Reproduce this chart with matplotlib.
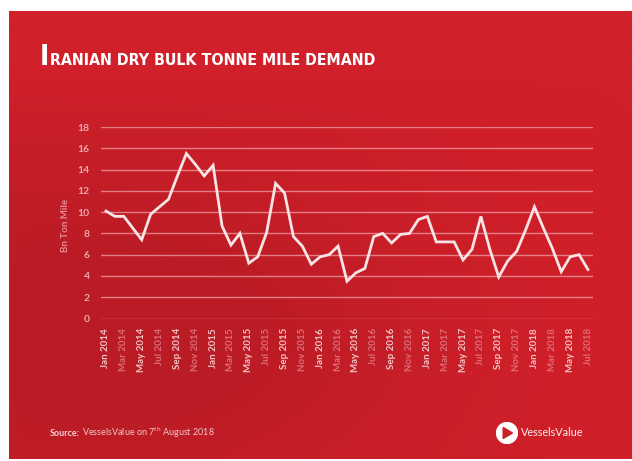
import numpy as np
import matplotlib
matplotlib.use("Agg")
import matplotlib.pyplot as plt
from matplotlib import font_manager as fm
from matplotlib.colors import LinearSegmentedColormap
from matplotlib.patches import Circle, Polygon

# Monthly Iranian dry bulk tonne-mile demand, Jan 2014 - Jul 2018 (bn ton miles)
months = ["Jan", "Feb", "Mar", "Apr", "May", "Jun",
          "Jul", "Aug", "Sep", "Oct", "Nov", "Dec"]
years = [2014, 2015, 2016, 2017, 2018]
demand_2014 = [10.1, 9.6, 9.6, 8.5, 7.4, 9.8, 10.5, 11.2, 13.4, 15.5, 14.5, 13.4]
demand_2015 = [14.4, 8.7, 6.9, 8.0, 5.2, 5.8, 8.1, 12.7, 11.8, 7.7, 6.8, 5.1]
demand_2016 = [5.8, 6.0, 6.8, 3.5, 4.3, 4.7, 7.7, 8.0, 7.1, 7.9, 8.0, 9.3]
demand_2017 = [9.6, 7.2, 7.2, 7.2, 5.5, 6.5, 9.6, 6.5, 3.9, 5.4, 6.3, 8.3]
demand_2018 = [10.5, 8.5, 6.6, 4.4, 5.8, 6.0, 4.6]
y_ticks = [0, 2, 4, 6, 8, 10, 12, 14, 16, 18]

demand = demand_2014 + demand_2015 + demand_2016 + demand_2017 + demand_2018
periods = [f"{m} {y}" for y in years for m in months][:len(demand)]
x = np.arange(len(demand))


def condensed_bold():
    """Return a FontProperties for a bold condensed face if one is installed."""
    keys = ("narrow", "condensed", "cond")
    best = None
    for f in fm.fontManager.ttflist:
        label = (f.name + " " + str(f.stretch) + " " + f.fname).lower()
        if not any(k in label for k in keys):
            continue
        w = f.weight if isinstance(f.weight, int) else {"bold": 700}.get(f.weight, 400)
        if "italic" in f.style or "oblique" in f.style or "italic" in f.fname.lower():
            continue
        score = abs(w - 700)
        if best is None or score < best[0]:
            best = (score, f.fname)
    if best is not None:
        return fm.FontProperties(fname=best[1]), True
    return fm.FontProperties(family="Liberation Sans", weight="bold"), False


W, H = 632, 461
fig = plt.figure(figsize=(W / 100, H / 100), dpi=100)
fig.patch.set_facecolor("white")

# red panel with a soft darker patch towards the lower left
bg = fig.add_axes([9 / W, 2 / H, (W - 9) / W, (459 - 11) / H])
bg.set_axis_off()
gx, gy = np.meshgrid(np.linspace(0, 1, 300), np.linspace(0, 1, 220))
shade = np.exp(-(((gx - 0.18) / 0.45) ** 2 + ((gy - 0.72) / 0.35) ** 2))
shade = np.clip(shade + 0.25 * (1 - gx) * (gy > 0.15), 0, 1)
top_band = np.clip((0.25 - gy) / 0.1, 0, 1)  # title area stays flat
shade = shade * (1 - top_band)
cmap = LinearSegmentedColormap.from_list("panel", ["#D1202A", "#B61B24"])
bg.imshow(shade, cmap=cmap, aspect="auto", extent=[0, 1, 0, 1],
          vmin=0, vmax=1.2, interpolation="bicubic")
bg.set_xlim(0, 1)
bg.set_ylim(0, 1)

# title in small caps, fitted to its width
title_fp, is_condensed = condensed_bold()
big_fp = title_fp.copy()
big_fp.set_size(20)
small_fp = title_fp.copy()
small_fp.set_size(14)
t_big = fig.text(40 / W, 1 - 65 / H, "I", color="white", fontproperties=big_fp,
                 va="baseline")
renderer = fig.canvas.get_renderer()
bw = t_big.get_window_extent(renderer).width
t_small = fig.text((40 + bw + 1) / W, 1 - 65 / H,
                   "RANIAN DRY BULK TONNE MILE DEMAND", color="white",
                   fontproperties=small_fp, va="baseline")
sw = t_small.get_window_extent(renderer).width
target = 379 - (40 + bw + 1)
small_fp.set_size(14 * target / sw)
t_small.set_fontproperties(small_fp)

# chart
ax = fig.add_axes([101 / W, 1 - 318.5 / H, (593 - 101) / W, (318.5 - 127) / H])
ax.set_facecolor("none")
ax.plot(x, demand, color="#F8E4E4", linewidth=2.0, solid_joinstyle="miter",
        zorder=3)
ax.set_xlim(-0.56, len(demand) - 1 + 0.56)
ax.set_ylim(0, 18)
ax.set_yticks(y_ticks)
ax.set_yticklabels([str(t) for t in y_ticks])
ax.grid(axis="y", color="#F0A0A6", linewidth=1.0, alpha=0.75)
ax.set_axisbelow(True)
for s in ax.spines.values():
    s.set_visible(False)

tick_pos = x[::2]
ax.set_xticks(tick_pos)
ax.set_xticklabels([periods[i] for i in tick_pos], rotation=90,
                   family="Lato", fontsize=7, fontweight="bold")
for k, lab in enumerate(ax.get_xticklabels()):
    lab.set_color("#F3C6C8" if k % 2 == 0 else "#DC6E78")
ax.tick_params(axis="x", length=0, pad=7)
ax.tick_params(axis="y", length=0, pad=8, labelcolor="#EDA7AC",
               labelsize=7.5)
for lab in ax.get_yticklabels():
    lab.set_family("Lato")
    lab.set_fontweight("bold")

fig.text(66 / W, 1 - 225 / H, "Bn Ton Mile", rotation=90, color="#E58C93",
         fontsize=7, family="Lato", fontweight="bold", ha="center",
         va="center")

# footer
fig.text(50 / W, 1 - 436 / H, "Source:", color="#F4D2D4", fontsize=6.5,
         family="Lato", fontweight="bold", va="baseline")
fig.text(82 / W, 1 - 436 / H,
         r"VesselsValue on 7$\mathregular{^{th}}$ August 2018",
         color="#F0C4C7", fontsize=6.5, family="Lato", va="baseline")

logo = fig.add_axes([496 / W, 1 - 444 / H, 22 / W, 22 / H])
logo.set_axis_off()
logo.set_xlim(-1, 1)
logo.set_ylim(-1, 1)
logo.set_aspect("equal")
logo.add_patch(Circle((0, 0), 0.95, color="white"))
logo.add_patch(Polygon([[-0.35, -0.5], [-0.35, 0.5], [0.5, 0.0]],
                       closed=True, color="#CC2029"))
fig.text(521 / W, 1 - 436 / H, "VesselsValue", color="#FBEDED",
         fontsize=7.8, family="Lato", va="baseline")

fig.savefig("out.png", dpi=100, facecolor=fig.get_facecolor())
